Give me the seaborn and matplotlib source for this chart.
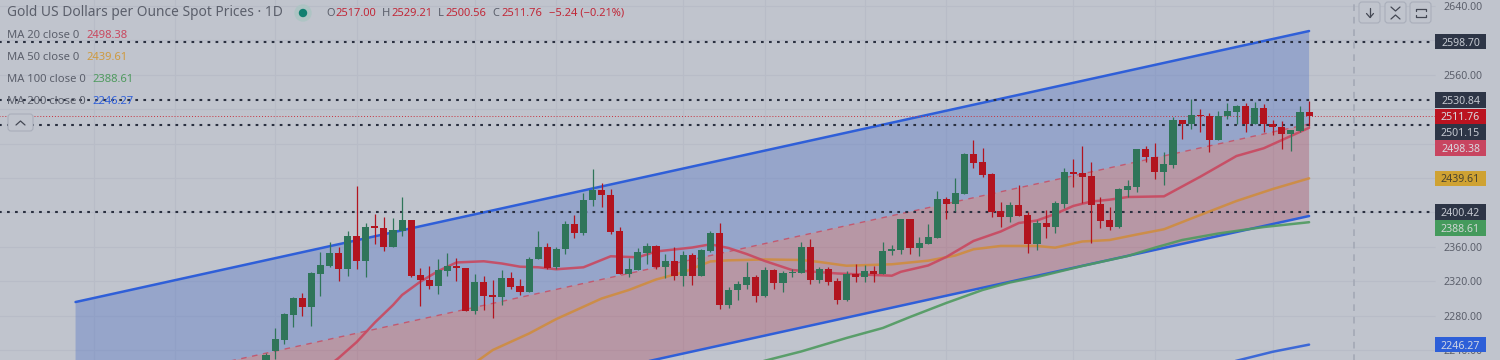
import matplotlib
matplotlib.use("Agg")
import matplotlib.pyplot as plt
import pandas as pd
import seaborn as sns
from matplotlib.lines import Line2D
from matplotlib.patches import Circle, FancyBboxPatch
from matplotlib.transforms import IdentityTransform

# daily candles
opens = [2222.6, 2238.9, 2251.6, 2281.1, 2300.8, 2290.4, 2328.7, 2338.0, 2352.5, 2334.2,
         2372.6, 2343.5, 2383.9, 2382.2, 2360.1, 2378.7, 2391.5, 2327.2, 2321.8, 2314.8,
         2331.9, 2337.7, 2335.7, 2285.4, 2318.7, 2304.0, 2301.3, 2324.1, 2314.4, 2307.5,
         2345.8, 2359.8, 2336.2, 2357.5, 2386.5, 2376.4, 2414.4, 2425.7, 2420.3, 2378.1,
         2328.4, 2333.0, 2353.2, 2361.0, 2336.9, 2343.2, 2326.4, 2350.1, 2326.4, 2355.1,
         2375.7, 2292.7, 2309.8, 2316.0, 2324.9, 2303.2, 2332.7, 2318.3, 2329.6, 2329.9,
         2359.8, 2321.4, 2334.6, 2320.3, 2298.2, 2328.0, 2325.3, 2331.5, 2328.4, 2355.5,
         2356.3, 2392.0, 2358.3, 2363.3, 2369.9, 2415.3, 2409.8, 2421.4, 2467.9, 2458.6,
         2444.7, 2401.3, 2395.0, 2408.6, 2397.0, 2363.3, 2387.7, 2382.7, 2409.8, 2447.0,
         2445.8, 2442.3, 2409.8, 2390.8, 2382.7, 2426.1, 2429.9, 2473.4, 2464.4, 2447.3,
         2455.5, 2507.5, 2503.2, 2513.6, 2512.5, 2484.6, 2512.1, 2517.1, 2524.1, 2503.2,
         2521.1, 2502.8, 2499.7, 2491.5, 2495.0, 2517.0]
closes = [2234.2, 2252.5, 2281.9, 2300.8, 2290.4, 2329.2, 2338.5, 2352.5, 2334.2, 2372.6,
          2343.5, 2383.4, 2382.2, 2360.1, 2379.2, 2391.5, 2326.4, 2321.4, 2314.8, 2332.7,
          2337.7, 2335.0, 2285.4, 2318.7, 2303.2, 2301.3, 2324.1, 2313.6, 2307.5, 2346.2,
          2359.8, 2335.7, 2357.8, 2386.5, 2376.4, 2414.8, 2425.7, 2419.9, 2377.6, 2328.7,
          2333.9, 2354.0, 2361.0, 2336.9, 2343.2, 2326.4, 2350.1, 2326.4, 2356.0, 2375.7,
          2292.7, 2310.1, 2316.4, 2324.9, 2303.2, 2332.7, 2318.3, 2329.2, 2330.7, 2359.8,
          2321.4, 2334.6, 2319.4, 2298.2, 2328.4, 2325.3, 2331.5, 2328.0, 2355.5, 2357.1,
          2392.0, 2358.3, 2364.1, 2371.1, 2415.3, 2409.8, 2422.2, 2467.9, 2457.5, 2443.9,
          2400.5, 2395.0, 2408.6, 2396.2, 2363.3, 2387.7, 2382.7, 2410.6, 2447.0, 2444.7,
          2441.5, 2409.0, 2390.4, 2382.7, 2426.9, 2430.7, 2473.4, 2464.1, 2447.3, 2456.3,
          2507.5, 2503.2, 2513.3, 2511.8, 2484.6, 2512.1, 2517.6, 2524.1, 2503.2, 2521.1,
          2502.5, 2499.0, 2491.5, 2495.8, 2516.4, 2511.76]
highs = [2236.9, 2266.0, 2282.5, 2302.0, 2306.0, 2330.7, 2353.6, 2365.3, 2360.1, 2378.4,
         2430.7, 2387.3, 2398.2, 2395.0, 2393.2, 2417.6, 2391.5, 2335.0, 2337.7, 2345.8,
         2352.5, 2346.6, 2335.7, 2328.0, 2326.1, 2321.4, 2332.7, 2330.7, 2322.2, 2347.8,
         2378.4, 2364.1, 2360.1, 2390.0, 2397.0, 2422.2, 2450.1, 2433.9, 2426.9, 2383.0,
         2347.3, 2359.0, 2364.1, 2361.8, 2351.7, 2360.1, 2354.8, 2352.5, 2357.1, 2378.4,
         2387.3, 2313.6, 2320.3, 2342.3, 2326.9, 2336.9, 2333.9, 2332.2, 2334.6, 2365.3,
         2369.1, 2336.2, 2336.2, 2323.7, 2331.5, 2340.0, 2338.5, 2338.0, 2365.3, 2362.1,
         2392.7, 2392.0, 2371.8, 2386.5, 2424.9, 2418.3, 2439.7, 2469.1, 2484.2, 2474.6,
         2445.5, 2411.8, 2411.8, 2431.9, 2400.1, 2391.2, 2402.5, 2413.3, 2451.3, 2461.8,
         2477.2, 2458.3, 2418.3, 2406.7, 2428.0, 2437.7, 2473.7, 2477.2, 2480.4, 2469.9,
         2510.6, 2507.5, 2531.9, 2519.9, 2515.3, 2517.9, 2527.6, 2524.9, 2527.6, 2528.4,
         2526.1, 2507.5, 2506.0, 2495.8, 2523.7, 2529.21]
lows = [2214.4, 2229.2, 2247.4, 2266.4, 2280.0, 2268.3, 2303.2, 2336.9, 2320.3, 2326.4,
        2334.2, 2324.6, 2363.6, 2355.1, 2360.1, 2372.9, 2325.3, 2291.5, 2311.0, 2305.1,
        2326.4, 2320.3, 2285.4, 2282.2, 2286.5, 2277.6, 2292.7, 2311.0, 2304.3, 2307.5,
        2345.8, 2333.9, 2334.6, 2352.0, 2370.6, 2374.1, 2407.8, 2406.6, 2375.3, 2328.0,
        2324.9, 2333.0, 2340.4, 2334.6, 2323.4, 2321.4, 2314.8, 2316.0, 2326.4, 2354.3,
        2287.3, 2288.5, 2298.2, 2310.6, 2295.8, 2302.0, 2311.0, 2307.5, 2324.6, 2329.2,
        2317.1, 2318.3, 2316.0, 2293.9, 2297.0, 2318.8, 2319.1, 2319.1, 2328.4, 2350.8,
        2351.7, 2351.7, 2349.7, 2363.3, 2369.9, 2392.0, 2401.6, 2421.4, 2451.3, 2440.8,
        2394.3, 2383.4, 2389.2, 2396.2, 2353.2, 2356.3, 2369.9, 2376.4, 2404.8, 2429.9,
        2411.3, 2364.8, 2381.9, 2379.6, 2381.9, 2417.6, 2424.1, 2459.0, 2438.9, 2431.9,
        2451.3, 2485.0, 2497.0, 2493.9, 2470.6, 2484.6, 2508.6, 2502.8, 2493.9, 2503.2,
        2493.9, 2490.0, 2473.7, 2471.4, 2493.9, 2500.56]

# moving averages: bar index and value
ma20_x = [6, 8, 10, 12, 14, 15, 17, 19, 21, 24, 26, 28, 30, 32, 35, 38, 41, 43, 47, 49, 51, 53, 55,
          58, 63, 69, 70, 73, 75, 78, 81, 83, 85, 87, 89, 91, 93, 95, 99, 103, 107, 110, 113, 115]
ma20_y = [2214.4, 2230.7, 2249.3, 2272.0, 2292.3, 2304.0, 2319.4, 2331.9, 2341.8, 2343.2, 2340.6,
          2336.9, 2336.2, 2333.9, 2336.2, 2349.0, 2347.8, 2354.6, 2359.2, 2362.9, 2358.6, 2351.6,
          2343.5, 2333.0, 2329.0, 2326.4, 2331.0, 2338.3, 2348.2, 2366.8, 2377.8, 2387.7, 2390.6,
          2398.2, 2407.5, 2412.7, 2414.8, 2417.9, 2418.7, 2441.5, 2465.6, 2474.6, 2488.9, 2498.38]
ma50_x = [23, 25, 29, 32, 37, 40, 43, 46, 48, 49, 51, 55, 59, 61, 64, 69, 73, 76, 78, 81, 85, 87,
          90, 93, 96, 99, 103, 107, 111, 115]
ma50_y = [2224.9, 2240.0, 2259.2, 2276.0, 2299.9, 2309.8, 2322.0, 2330.4, 2338.9, 2343.0, 2344.3,
          2345.3, 2344.7, 2342.4, 2338.0, 2339.7, 2343.9, 2349.9, 2357.1, 2361.0, 2361.0, 2359.0,
          2366.2, 2367.9, 2374.3, 2380.4, 2397.0, 2413.3, 2427.2, 2439.61]
ma100_x = [54, 59, 64, 68, 71, 75, 79, 82, 85, 90, 95, 98, 101, 105, 110, 115]
ma100_y = [2224.9, 2238.3, 2254.0, 2265.6, 2278.4, 2294.7, 2309.8, 2318.5, 2324.9, 2337.7, 2349.3,
           2359.0, 2367.9, 2375.5, 2383.0, 2388.61]
ma200_x = [106, 111, 115]
ma200_y = [2224.9, 2238.0, 2246.27]

# regression channel ends
channel_x = [-21, 115]
channel_upper = [2295.8, 2610.9]
channel_mid = [2187.7, 2502.8]
channel_lower = [2080.7, 2395.8]

hline_levels = [2598.70, 2530.84, 2501.15, 2400.42]
last_close = 2511.76
y_ticks = [2640, 2600, 2560, 2520, 2480, 2440, 2400, 2360, 2320, 2280, 2240]
# labels of 2600, 2520, 2480, 2440 and 2400 sit behind the price tags
y_labels = ["2640.00", "", "2560.00", "", "", "", "", "2360.00", "2320.00", "2280.00", "2240.00"]
grid_x = [-19, -10, 1, 10, 23, 32, 46, 55, 66, 75, 89, 98, 111]
cursor_x = 120

tag_pos = [2598.70, 2530.84, 2511.76, 2493.5, 2474.9, 2439.61, 2400.42, 2381.9, 2246.27]
tag_text = ["2598.70", "2530.84", "2511.76", "2501.15", "2498.38", "2439.61", "2400.42", "2388.61", "2246.27"]
tag_bg = ["#2d3546", "#2d3546", "#bb1320", "#2d3546", "#c84560", "#cfa232", "#2d3546", "#449a5c", "#2d5fd8"]
tag_fg = ["#c6cad2", "#c6cad2", "#d8dae0", "#c6cad2", "#d8dae0", "#4a4430", "#c6cad2", "#d0d6d4", "#d0d6e4"]

BG = "#c0c4cd"
GRID = "#b8bcc7"
TEXT = "#5b5f6b"
UP = "#2f7559"
DOWN = "#b2141f"
BLUE = "#2f5fd8"
C20 = "#c9485f"
C50 = "#cf8c3f"
C100 = "#4f9a5f"
DOT = "#2a3040"

sns.set_theme(style="white", rc={"figure.facecolor": BG, "axes.facecolor": BG})
plt.rcParams["font.family"] = ["Noto Sans", "DejaVu Sans"]

fig = plt.figure(figsize=(15, 3.6), dpi=100)
ax = fig.add_axes([0, 0, 1, 1])

bars = pd.DataFrame({"open": opens, "close": closes, "high": highs, "low": lows})
bars["x"] = bars.index
bars["top"] = bars[["open", "close"]].max(axis=1)
bars["bottom"] = bars[["open", "close"]].min(axis=1)
bars["color"] = [UP if c >= o else DOWN for o, c in zip(opens, closes)]

ax.hlines(y_ticks, -30, 128.9, color=GRID, lw=0.8, zorder=1)
ax.vlines(grid_x, 2200, 2660, color=GRID, lw=0.8, zorder=1)

ax.fill_between(channel_x, channel_mid, channel_upper, color="#3a62c4", alpha=0.31, lw=0, zorder=1.5)
ax.fill_between(channel_x, channel_lower, channel_mid, color="#a53049", alpha=0.30, lw=0, zorder=1.5)

sns.lineplot(x=channel_x, y=channel_upper, ax=ax, color=BLUE, lw=1.8, zorder=2)
sns.lineplot(x=channel_x, y=channel_lower, ax=ax, color=BLUE, lw=1.8, zorder=2)
sns.lineplot(x=channel_x, y=channel_mid, ax=ax, color=C20, lw=1.0, alpha=0.8, linestyle=(0, (4, 4)), zorder=2)

ax.hlines(hline_levels, -30, 128.7, color=DOT, lw=1.5, linestyle=(0, (1.3, 2.55)), zorder=2.2)
ax.hlines(last_close, -30, 128.9, color="#c9303c", lw=0.7, linestyle=(0, (1, 2)), zorder=2.2)
ax.vlines(cursor_x, 2200, 2660, color="#a4a9b6", lw=1.2, linestyle=(0, (4, 3.5)), zorder=2.2)

for xs, ys, col in [(ma200_x, ma200_y, BLUE), (ma100_x, ma100_y, C100),
                    (ma50_x, ma50_y, C50), (ma20_x, ma20_y, C20)]:
    sns.lineplot(x=xs, y=ys, ax=ax, color=col, lw=1.8, alpha=0.9, zorder=3)

ax.vlines(bars["x"], bars["low"], bars["high"], colors=bars["color"], lw=0.9, zorder=4)
ax.bar(bars["x"], bars["top"] - bars["bottom"], bottom=bars["bottom"], width=0.78,
       color=bars["color"], linewidth=0, zorder=4)

ax.set_xlim(-29.33, 136.05)
ax.set_ylim(2228.4, 2646.98)
ax.set_xticks([])
ax.yaxis.tick_right()
ax.set_yticks(y_ticks, y_labels)
ax.tick_params(axis="y", length=0, direction="in", pad=-41, labelsize=7.6, labelcolor=TEXT)
sns.despine(ax=ax, left=True, bottom=True, right=True, top=True)

# price tags on the axis
ax.barh(tag_pos, 5.62, height=18, left=128.9, color=tag_bg, linewidth=0, zorder=6)
for pos, txt, fg in zip(tag_pos, tag_text, tag_fg):
    ax.text(131.7, pos, txt, color=fg, fontsize=7.6, ha="center", va="center_baseline", zorder=7)


def put(x, y, txt, color=TEXT, size=8.0):
    return fig.text(x / 1500, 1 - y / 360, txt, color=color, fontsize=size, ha="left", va="center")


put(7, 13, "Gold US Dollars per Ounce Spot Prices \u00b7 1D", size=9.9)
fig.add_artist(Circle((303, 347), 8, color="#aec4c4", transform=IdentityTransform()))
fig.add_artist(Circle((303, 347), 3.5, color="#108070", transform=IdentityTransform()))
ohlc_x = [326, 382, 438, 492]
ohlc_gap = [9, 9, 7, 9]
for x, gap, lab, val in zip(ohlc_x, ohlc_gap, "OHLC", ["2517.00", "2529.21", "2500.56", "2511.76"]):
    put(x, 13, lab, size=8.0)
    put(x + gap, 13, val, color="#c02838", size=8.0)
put(549, 13, "\u22125.24 (\u22120.21%)", color="#c02838", size=8.0)

ma_rows = [("MA 20 close 0", "2498.38", C20, 86, 35), ("MA 50 close 0", "2439.61", "#cf9a3f", 86, 57),
           ("MA 100 close 0", "2388.61", C100, 92, 79), ("MA 200 close 0", "2246.27", BLUE, 92, 101)]
for name, val, col, vx, row in ma_rows:
    put(7, row, name, size=8.1)
    put(vx, row, val, color=col, size=8.1)

# small buttons
for x0, w, y0, h in [(8, 25, 114, 17), (1359, 21, 2, 21), (1385, 21, 2, 21), (1410, 21, 2, 21)]:
    fig.add_artist(FancyBboxPatch((x0, 360 - y0 - h), w, h, boxstyle="round,pad=0,rounding_size=3",
                                  fc=BG, ec="#a9aeba", lw=0.8, transform=IdentityTransform()))
icons = [([16, 20.5, 25], [235, 239, 235]),
         ([1370, 1370], [352, 343]), ([1366.5, 1370, 1373.5], [346.5, 342.5, 346.5]),
         ([1391, 1395.5, 1400], [353, 349, 353]), ([1391, 1395.5, 1400], [341, 345, 341]),
         ([1416, 1416, 1426, 1426], [349, 351, 351, 349]), ([1416, 1416, 1426, 1426], [345, 343, 343, 345])]
for xs, ys in icons:
    fig.add_artist(Line2D(xs, ys, color="#444854", lw=0.9, transform=IdentityTransform()))

fig.savefig("out.png", dpi=100, facecolor=BG)
